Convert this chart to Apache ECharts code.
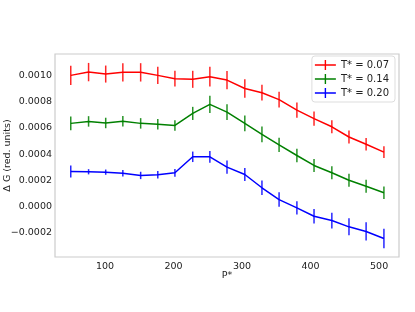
<!DOCTYPE html>
<html><head><meta charset="utf-8">
<script src="https://cdn.jsdelivr.net/npm/echarts@6/dist/echarts.min.js"></script>
<style>html,body{margin:0;padding:0;background:#fff}#c{width:415px;height:312px}</style>
</head><body><div id="c"></div>
<script>
const pValues = [50, 76, 101, 126, 152, 177, 202, 228, 253, 278, 304, 329, 354, 380, 405, 431, 456, 481, 507];
const seriesNames = ['T* = 0.07', 'T* = 0.14', 'T* = 0.20'];
const colors = ['#ff0000', '#008000', '#0000ff'];
const gT007 = [0.00100, 0.001025, 0.00101, 0.001023, 0.001023, 0.00100, 0.000975, 0.00097, 0.00099, 0.000964, 0.0009, 0.000868, 0.000815, 0.000735, 0.00067, 0.000608, 0.00053, 0.000475, 0.000415];
const errT007 = [0.000074, 0.00007, 0.000065, 0.00007, 0.00007, 0.000065, 0.00006, 0.000065, 0.000075, 0.00007, 0.00007, 0.00006, 0.00006, 0.000058, 0.000055, 0.00005, 0.00005, 0.000048, 0.000045];
const gT014 = [0.000634, 0.000649, 0.000637, 0.00065, 0.000634, 0.000628, 0.000618, 0.00071, 0.000779, 0.00072, 0.000634, 0.00055, 0.00047, 0.000389, 0.000313, 0.000257, 0.0002, 0.000155, 0.000105];
const errT014 = [0.000053, 0.00004, 0.00004, 0.00004, 0.00004, 0.00004, 0.00004, 0.00005, 0.000066, 0.00006, 0.00006, 0.00006, 0.000055, 0.000052, 0.00005, 0.00005, 0.00005, 0.00005, 0.000048];
const gT020 = [0.000267, 0.000265, 0.000262, 0.000254, 0.000237, 0.000242, 0.000257, 0.000379, 0.000379, 0.0003, 0.000244, 0.000143, 0.000053, -0.00001, -0.000074, -0.000107, -0.000155, -0.00019, -0.000244];
const errT020 = [0.000046, 0.00002, 0.00002, 0.000025, 0.000028, 0.000028, 0.00003, 0.00004, 0.000045, 0.00005, 0.00005, 0.000055, 0.000055, 0.00005, 0.000055, 0.00006, 0.000065, 0.00007, 0.000074];
const xTicks = [100, 200, 300, 400, 500];
const yTicks = [-0.0002, 0, 0.0002, 0.0004, 0.0006, 0.0008, 0.0010];

const ys = [gT007, gT014, gT020];
const errs = [errT007, errT014, errT020];
const font = 'DejaVu Sans';

const series = [];
seriesNames.forEach((name, k) => {
  series.push({
    name: name, type: 'line', showSymbol: false, symbol: 'none',
    data: pValues.map((x, i) => [x, ys[k][i]]),
    lineStyle: { color: colors[k], width: 1.5 }, itemStyle: { color: colors[k] },
    z: 3, animation: false
  });
  series.push({
    name: name, type: 'custom',
    data: pValues.map((x, i) => [x, ys[k][i] - errs[k][i], ys[k][i] + errs[k][i]]),
    renderItem: function (params, api) {
      const a = api.coord([api.value(0), api.value(1)]);
      const b = api.coord([api.value(0), api.value(2)]);
      return { type: 'line', shape: { x1: a[0], y1: a[1], x2: b[0], y2: b[1] },
        style: { stroke: colors[k], lineWidth: 1.5, opacity: 0.85 } };
    },
    z: 4, animation: false
  });
});

const chart = echarts.init(document.getElementById('c'), null, { renderer: 'canvas' });
chart.setOption({
  animation: false,
  backgroundColor: '#fff',
  grid: { left: 55, right: 16, top: 54, bottom: 55, show: true, borderColor: '#cccccc', borderWidth: 1.2,
    containLabel: false, outerBoundsMode: 'none' },
  legend: {
    right: 20, top: 56, orient: 'vertical', itemGap: 4, itemWidth: 21, itemHeight: 10,
    padding: [4, 6, 4, 3],
    borderColor: '#dddddd', borderWidth: 1, borderRadius: 3,
    data: seriesNames.map((n, k) => ({ name: n, icon: 'path://M0,4.3h21v1.4h-21z M9.8,0h1.4v10h-1.4z', itemStyle: { color: colors[k] } })),
    textStyle: { fontFamily: font, fontSize: 10, color: '#222' }
  },
  xAxis: {
    type: 'value', min: 27, max: 529, name: 'P*', nameLocation: 'middle', nameGap: 14, nameMoveOverlap: false,
    nameTextStyle: { fontFamily: font, fontSize: 9.5, color: '#222' },
    axisLine: { show: false }, axisTick: { show: false }, splitLine: { show: false },
    axisLabel: { customValues: xTicks, fontFamily: font, fontSize: 9.5, color: '#222', margin: 5 }
  },
  yAxis: {
    type: 'value', min: -0.000385, max: 0.001163, name: 'Δ G (red. units)', nameLocation: 'middle', nameGap: 42, nameMoveOverlap: false,
    nameTextStyle: { fontFamily: font, fontSize: 9.5, color: '#222' },
    axisLine: { show: false }, axisTick: { show: false }, splitLine: { show: false },
    axisLabel: { customValues: yTicks, fontFamily: font, fontSize: 9.5, color: '#222', margin: 3,
      formatter: v => (v < 0 ? '\u2212' : '') + Math.abs(v).toFixed(4) }
  },
  series: series
});
</script></body></html>
